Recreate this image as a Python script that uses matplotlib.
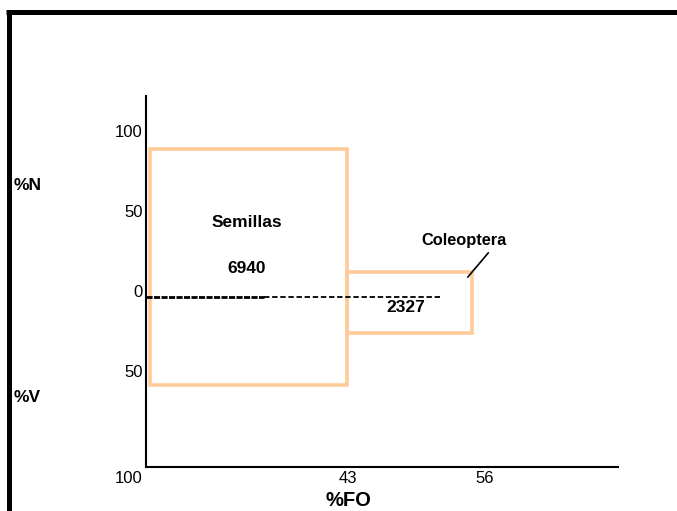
import matplotlib
matplotlib.use("Agg")
import matplotlib.pyplot as plt
from matplotlib.patches import Rectangle
from matplotlib.lines import Line2D

plt.rcParams['font.family'] = ['Liberation Sans', 'DejaVu Sans']

# ---- data (Costello-type diagram) ----
prey = ["Semillas", "Coleoptera"]
fo_start = [0.95, 42.6]       # position on %FO axis
fo_end = [42.6, 69.0]
pct_n = [92.5, 15.9]          # upward (%N)
pct_v = [54.7, 22.7]          # downward (%V)
counts = ["6940", "2327"]
edge_color = "#FFCC99"

ytick_vals = [100, 50, 0, -50]
ytick_labels = ["100", "50", "0", "50"]
xtick_vals = [-3.6, 42.8, 71.8]
xtick_labels = ["100", "43", "56"]
zero_line_x = [0, 25.0, 62.3]

W, H = 677, 511
fig = plt.figure(figsize=(W / 100, H / 100), dpi=100)
ax = fig.add_axes([146 / W, (H - 467) / H, (618 - 146) / W, (467 - 96) / H])
ax.set_xlim(0, 100)
ax.set_ylim(-106.25, 125.6)
for s in ["top", "right"]:
    ax.spines[s].set_visible(False)
for s in ["left", "bottom"]:
    ax.spines[s].set_linewidth(1.5)
ax.set_xticks([])
ax.set_yticks([])
ax.patch.set_alpha(0)

# rectangles
for x0, x1, n, v in zip(fo_start, fo_end, pct_n, pct_v):
    ax.add_patch(Rectangle((x0, -v), x1 - x0, n + v, fill=False,
                           edgecolor=edge_color, linewidth=2.6, zorder=2))

# zero line (dense part then sparser dashes)
ax.plot(zero_line_x[:2], [0, 0], color="black", lw=2.0,
        linestyle=(0, (2.2, 0.5)), zorder=3, clip_on=False)
ax.plot(zero_line_x[1:], [0, 0], color="black", lw=1.3,
        linestyle=(0, (3, 1.5)), zorder=3)

# labels in boxes
ax.text(21.4, 46.25, prey[0], ha="center", va="center",
        fontsize=12.5, fontweight="bold")
ax.text(21.4, 17.5, counts[0], ha="center", va="center",
        fontsize=12.5, fontweight="bold")
ax.text(55.0, -6.6, counts[1], ha="center", va="center",
        fontsize=12.5, fontweight="bold", zorder=4)
ax.text(67.4, 35.6, prey[1], ha="center", va="center",
        fontsize=11.8, fontweight="bold")
ax.plot([68.2, 72.5], [12.5, 27.5], color="black", lw=1.2)

# y tick labels
for v, lab in zip(ytick_vals, ytick_labels):
    ax.annotate(lab, (0, v), xytext=(-2.2, 3), textcoords="offset points",
                ha="right", va="center", fontsize=12, annotation_clip=False)
# x tick labels
for v, lab in zip(xtick_vals, xtick_labels):
    ax.annotate(lab, (v, -106.25), xytext=(0, -8.6), textcoords="offset points",
                ha="center", va="center", fontsize=12, annotation_clip=False)

fig.text(14 / W, 1 - 185 / H, "%N", ha="left", va="center",
         fontsize=12.5, fontweight="bold")
fig.text(14 / W, 1 - 397 / H, "%V", ha="left", va="center",
         fontsize=12.5, fontweight="bold")
fig.text(348 / W, 1 - 500 / H, "%FO", ha="center", va="center",
         fontsize=14.5, fontweight="bold")

# frame lines (top and left)
fig.add_artist(Line2D([6 / W, 1.0], [1 - 12.5 / H, 1 - 12.5 / H],
                      color="black", lw=3.6, transform=fig.transFigure,
                      solid_capstyle="butt"))
fig.add_artist(Line2D([8.5 / W, 8.5 / W], [1 - 10 / H, 0],
                      color="black", lw=3.6, transform=fig.transFigure,
                      solid_capstyle="butt"))

fig.savefig("out.png", dpi=100)
